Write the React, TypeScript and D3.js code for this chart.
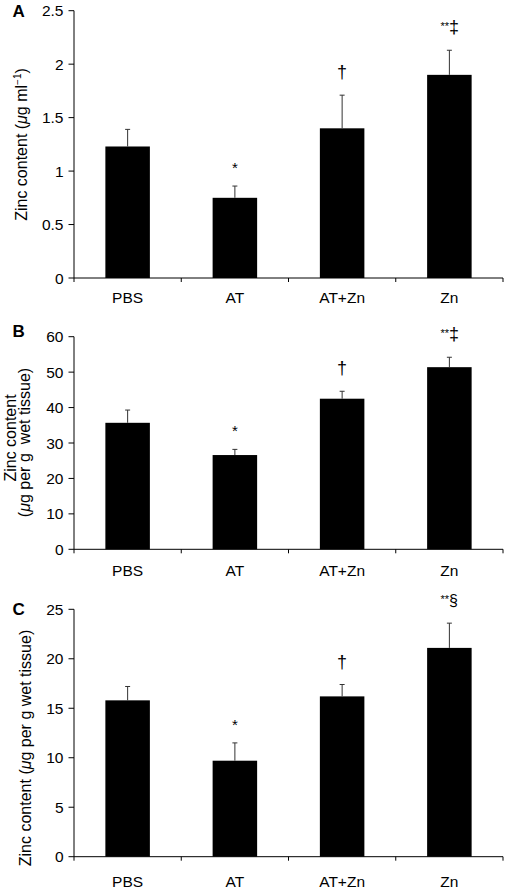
import React from "react";
import * as d3 from "d3";

const categories = ["PBS", "AT", "AT+Zn", "Zn"];

const meansA = [1.23, 0.75, 1.4, 1.9];
const errA = [0.16, 0.11, 0.31, 0.23];
const ticksA = [0, 0.5, 1, 1.5, 2, 2.5];
const marksA = ["", "*", "\u2020", "**\u2021"];

const meansB = [35.7, 26.6, 42.5, 51.4];
const errB = [3.6, 1.6, 2.1, 2.8];
const ticksB = [0, 10, 20, 30, 40, 50, 60];
const marksB = ["", "*", "\u2020", "**\u2021"];

const meansC = [15.8, 9.7, 16.2, 21.1];
const errC = [1.4, 1.8, 1.2, 2.5];
const ticksC = [0, 5, 10, 15, 20, 25];
const marksC = ["", "*", "\u2020", "**\u00A7"];

const FONT = "'Liberation Sans', Arial, Helvetica, sans-serif";
const X0 = 74;
const X1 = 503;
const FS = 15.5;

type PanelProps = {
  letter: string;
  letterY: number;
  top: number;
  bottom: number;
  max: number;
  ticks: number[];
  means: number[];
  errs: number[];
  marks: string[];
  labelOffset: number;
  ylabel: React.ReactNode;
};

function Mark({ text, x, y }: { text: string; x: number; y: number }) {
  if (!text) return null;
  if (text === "*") {
    return (
      <text x={x} y={y + 9} textAnchor="middle" fontSize={15} fontFamily={FONT}>
        *
      </text>
    );
  }
  if (text === "\u2020") {
    return (
      <text x={x} y={y + 5} textAnchor="middle" fontSize={18} fontFamily={FONT}>
        {"\u2020"}
      </text>
    );
  }
  const sym = text.slice(2);
  return (
    <text x={x - 9} y={y + 5} textAnchor="start" fontFamily={FONT}>
      <tspan fontSize={11} dy={-3}>**</tspan>
      <tspan fontSize={sym === "\u00A7" ? 16 : 18} dy={3}>{sym}</tspan>
    </text>
  );
}

function Panel(p: PanelProps) {
  const x = d3
    .scaleBand<string>()
    .domain(categories)
    .range([X0, X1])
    .paddingInner(0.585)
    .paddingOuter(0.2925);
  const y = d3.scaleLinear().domain([0, p.max]).range([p.bottom, p.top]);
  const bw = x.bandwidth();
  const step = x.step();
  const boundaries = [X0, ...categories.map((c) => (x(c) as number) + bw / 2 + step / 2)];
  return (
    <g>
      <text x={12.5} y={p.letterY} fontSize={17} fontWeight="bold" fontFamily={FONT}>
        {p.letter}
      </text>
      {p.ylabel}
      {categories.map((c, i) => {
        const cx = (x(c) as number) + bw / 2;
        const top = y(p.means[i] + p.errs[i]);
        return (
          <g key={c}>
            <rect x={x(c)} y={y(p.means[i])} width={bw} height={p.bottom - y(p.means[i])} fill="#000" />
            <line x1={cx} x2={cx} y1={y(p.means[i])} y2={top} stroke="#333" strokeWidth={1} />
            <line x1={cx - 2.5} x2={cx + 2.5} y1={top} y2={top} stroke="#333" strokeWidth={1} />
            <Mark text={p.marks[i]} x={cx} y={top - 15 - 7} />
            <text
              x={cx}
              y={p.bottom + p.labelOffset}
              textAnchor="middle"
              fontSize={FS}
              fontFamily={FONT}
            >
              {c}
            </text>
          </g>
        );
      })}
      <line x1={X0} x2={X0} y1={p.top} y2={p.bottom} stroke="#000" strokeWidth={1} />
      <line x1={X0} x2={X1} y1={p.bottom} y2={p.bottom} stroke="#000" strokeWidth={1} />
      {p.ticks.map((t) => (
        <g key={t}>
          <line x1={X0 - 5.5} x2={X0} y1={y(t)} y2={y(t)} stroke="#000" strokeWidth={1} />
          <text
            x={X0 - 10.5}
            y={y(t) + 5.5}
            textAnchor="end"
            fontSize={FS}
            fontFamily={FONT}
          >
            {String(t)}
          </text>
        </g>
      ))}
      {boundaries.map((b, i) => (
        <line key={i} x1={b} x2={b} y1={p.bottom} y2={p.bottom + 4} stroke="#000" strokeWidth={1} />
      ))}
    </g>
  );
}

export default function App() {
  return (
    <svg
      width={506}
      height={890}
      style={{ position: "absolute", left: 0, top: 0, background: "#fff" }}
    >
      <rect width={506} height={890} fill="#fff" />
      <Panel
        letter="A"
        letterY={17}
        top={10.7}
        bottom={278}
        max={2.5}
        ticks={ticksA}
        means={meansA}
        errs={errA}
        marks={marksA}
        labelOffset={25.3}
        ylabel={
          <text
            transform="translate(26.7,144.5) rotate(-90)"
            textAnchor="middle"
            fontSize={16}
            fontFamily={FONT}
          >
            Zinc content (<tspan fontStyle="italic">μ</tspan>g ml
            <tspan fontSize={10} dy={-6}>−1</tspan>
            <tspan dy={6}>)</tspan>
          </text>
        }
      />
      <Panel
        letter="B"
        letterY={337}
        top={336.7}
        bottom={549.3}
        max={60}
        ticks={ticksB}
        means={meansB}
        errs={errB}
        marks={marksB}
        labelOffset={26.7}
        ylabel={
          <g>
            <text
              transform="translate(16,438) rotate(-90)"
              textAnchor="middle"
              fontSize={16}
              fontFamily={FONT}
            >
              Zinc content
            </text>
            <text
              transform="translate(30,442.5) rotate(-90)"
              textAnchor="middle"
              fontSize={16}
              fontFamily={FONT}
              xmlSpace="preserve"
            >
              (<tspan fontStyle="italic">μ</tspan>g per g  wet tissue)
            </text>
          </g>
        }
      />
      <Panel
        letter="C"
        letterY={614.5}
        top={609.3}
        bottom={856.7}
        max={25}
        ticks={ticksC}
        means={meansC}
        errs={errC}
        marks={marksC}
        labelOffset={30}
        ylabel={
          <text
            transform="translate(30.7,748) rotate(-90)"
            textAnchor="middle"
            fontSize={16}
            fontFamily={FONT}
          >
            Zinc content (<tspan fontStyle="italic">μ</tspan>g per g wet tissue)
          </text>
        }
      />
    </svg>
  );
}
